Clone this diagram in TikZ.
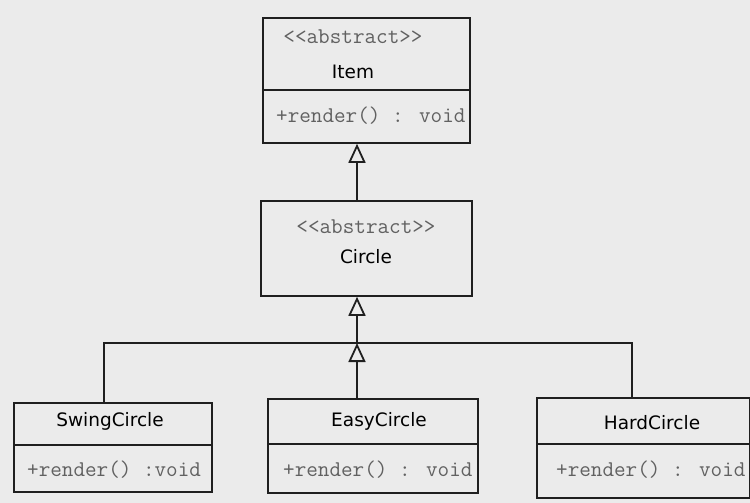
\documentclass[tikz,border=0pt]{standalone}
\usepackage{fontspec}
\setsansfont{DejaVu Sans}
\usetikzlibrary{arrows.meta}

\begin{document}
\begin{tikzpicture}[x=1pt,y=-1pt]
  % Colors
  \colorlet{bggrey}{white!92!black}
  \colorlet{linegrey}{black!88}
  \colorlet{textgrey}{black!62}

  % Styles
  \tikzstyle{class box}=[draw=linegrey,line width=1.8pt,inner sep=0pt,anchor=north west]
  \tikzstyle{class name}=[font=\sffamily\fontsize{18.5}{22}\selectfont,text=black,inner sep=0pt]
  \tikzstyle{stereotype}=[font=\ttfamily\fontsize{22.5}{24}\selectfont,text=textgrey,inner sep=0pt]
  \tikzstyle{operation}=[stereotype,anchor=west]
  \tikzstyle{link}=[draw=linegrey,line width=1.8pt]
  \tikzstyle{inherit}=[link,-{Triangle[open,length=19pt,width=17pt]}]

  % Background
  \fill[bggrey] (0,0) rectangle (750,503);
  \useasboundingbox (0,0) rectangle (750,503);

  % The classes
  \node[class box,minimum width=207pt,minimum height=125pt] (item) at (262,17) {};
  \draw[link] (item.west |- 0,90) -- (item.east |- 0,90);
  \node[stereotype] (item-st) at (353,37) {<<abstract>>};
  \node[class name] (item-name) at (353,72) {Item};
  \node[operation] (item-op) at (276,116) {+render() : void};

  \node[class box,minimum width=211pt,minimum height=95pt] (circle) at (260,200) {};
  \node[stereotype] (circle-st) at (366,227) {<<abstract>>};
  \node[class name] (circle-name) at (366,257) {Circle};

  \node[class box,minimum width=198pt,minimum height=89pt] (swing) at (13,402) {};
  \draw[link] (swing.west |- 0,445) -- (swing.east |- 0,445);
  \node[class name] (swing-name) at (110,421) {SwingCircle};
  \node[operation] (swing-op) at (27,470) {+render() :void};

  \node[class box,minimum width=210pt,minimum height=94pt] (easy) at (267,398) {};
  \draw[link] (easy.west |- 0,444) -- (easy.east |- 0,444);
  \node[class name] (easy-name) at (379,421) {EasyCircle};
  \node[operation] (easy-op) at (283,470) {+render() : void};

  \node[class box,minimum width=213pt,minimum height=100pt] (hard) at (536,397) {};
  \draw[link] (hard.west |- 0,444) -- (hard.east |- 0,444);
  \node[class name] (hard-name) at (652,423) {HardCircle};
  \node[operation] (hard-op) at (556,470) {+render() : void};

  % Generalisations
  \coordinate (bus) at (357,343);
  \draw[inherit] (circle.north -| bus) -- (item.south -| bus);
  \draw[inherit] (bus) -- (circle.south -| bus);
  \draw[link] (swing.north -| 104,0) |- (bus) -| (hard.north -| 632,0);
  \draw[inherit] (easy.north -| bus) -- (bus);
\end{tikzpicture}
\end{document}
